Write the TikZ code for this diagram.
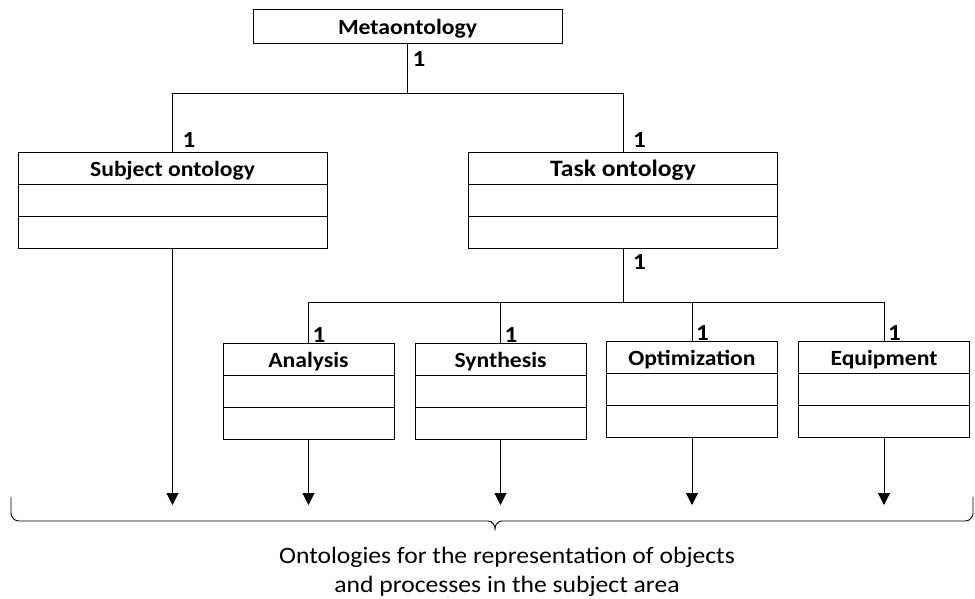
\documentclass[tikz,border=0pt]{standalone}
\usepackage{fontspec}
\setmainfont{Carlito}[FakeStretch=1.09]
\usepackage{tikz}
\usetikzlibrary{arrows.meta,positioning}
\tikzset{
	cls/.style = {draw, rectangle, inner sep=0pt, outer sep=0pt, line width=0.9pt,
		minimum height=32pt, text height=17pt, text depth=1pt,
		font=\bfseries\fontsize{21.7}{26}\selectfont},
	cls_w/.style = {cls, minimum width=309pt},
	cls_n/.style = {cls, minimum width=171pt},
	mult/.style = {inner sep=0pt, outer sep=0pt,
		font=\bfseries\fontsize{23}{27}\selectfont},
	link/.style = {line width=0.9pt},
	flow/.style = {link, -{Triangle[width=12pt,length=12pt]}}
}
\begin{document}
\begin{tikzpicture}[x=1pt,y=-1pt]
\useasboundingbox (0,0) rectangle (975,598);

\node [cls_w, minimum height=34pt] (meta) at (407.5,26) {Metaontology};

\node [cls_w] (subj) at (172.5,168) {Subject ontology};
\node [cls_w, below=0pt of subj] (subj_a) {};
\node [cls_w, below=0pt of subj_a] (subj_b) {};

\node [cls_w, font=\bfseries\fontsize{23.5}{28}\selectfont] (task) at (623,168) {Task ontology};
\node [cls_w, below=0pt of task] (task_a) {};
\node [cls_w, below=0pt of task_a] (task_b) {};

\node [cls_n] (ana) at (308.5,359) {Analysis};
\node [cls_n, below=0pt of ana] (ana_a) {};
\node [cls_n, below=0pt of ana_a] (ana_b) {};

\node [cls_n] (syn) at (500.5,359) {Synthesis};
\node [cls_n, below=0pt of syn] (syn_a) {};
\node [cls_n, below=0pt of syn_a] (syn_b) {};

\node [cls_n] (opt) at (692,357) {Optimization};
\node [cls_n, below=0pt of opt] (opt_a) {};
\node [cls_n, below=0pt of opt_a] (opt_b) {};

\node [cls_n] (equ) at (884,357) {Equipment};
\node [cls_n, below=0pt of equ] (equ_a) {};
\node [cls_n, below=0pt of equ_a] (equ_b) {};

\coordinate (j_top) at (407.5,93);
\coordinate (j_mid) at (623,302);
\coordinate (base) at (0,505);

\draw [link] (meta) -- (j_top) -| (subj);
\draw [link] (j_top) -| (task);
\draw [link] (task_b) -- (j_mid) -| (ana);
\draw [link] (j_mid) -| (syn);
\draw [link] (j_mid) -| (opt);
\draw [link] (j_mid) -| (equ);

\node [mult, below right=9pt and 5pt of meta.south] (one_meta) {1};
\node [mult, above right=5pt and 10pt of subj.north] (one_subj) {1};
\node [mult, above right=5pt and 10pt of task.north] (one_task) {1};
\node [mult, below right=7pt and 10pt of task_b.south] (one_task_b) {1};
\node [mult, above right=1pt and 4pt of ana.north] (one_ana) {1};
\node [mult, above right=1pt and 4pt of syn.north] (one_syn) {1};
\node [mult, above right=1pt and 4pt of opt.north] (one_opt) {1};
\node [mult, above right=1pt and 4pt of equ.north] (one_equ) {1};

\draw [flow] (subj_b) -- (subj_b |- base);
\draw [flow] (ana_b) -- (ana_b |- base);
\draw [flow] (syn_b) -- (syn_b |- base);
\draw [flow] (opt_b) -- (opt_b |- base);
\draw [flow] (equ_b) -- (equ_b |- base);

% brace
\draw [link] (11,497) -- (11,513) to[out=270,in=180] (19,521) -- (488,521)
	to[out=0,in=90] (495,529) to[out=90,in=180] (502,521) -- (965,521)
	to[out=0,in=270] (973,513) -- (973,497);

\node [inner sep=0pt, anchor=north, align=center,
	font=\fontsize{23.5}{29}\selectfont] (note) at (507,547)
	{Ontologies for the representation of objects\\and processes in the subject area};
\end{tikzpicture}
\end{document}
